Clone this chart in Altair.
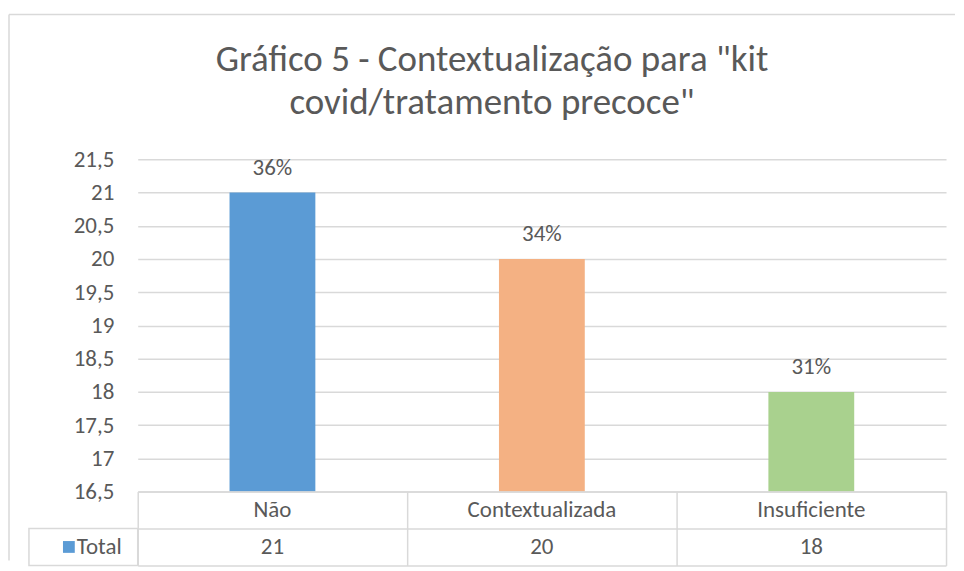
import altair as alt
import pandas as pd

categories = ["Não", "Contextualizada", "Insuficiente"]
totals = [21, 20, 18]
percent_labels = ["36%", "34%", "31%"]
bar_colors = ["#5B9BD5", "#F4B183", "#A9D18E"]
y_ticks = [16.5, 17, 17.5, 18, 18.5, 19, 19.5, 20, 20.5, 21, 21.5]
series_name = "Total"
table_rows = ["Categoria", "Total"]
title_lines = ['Gráfico 5 - Contextualização para "kit', 'covid/tratamento precoce"']

FONT = "Carlito, Lato, sans-serif"
TEXT = "#595959"
GRID = "#D9D9D9"
FS = 23

bars_df = pd.DataFrame({"cat": categories, "total": totals, "pct": percent_labels})
xscale = alt.Scale(domain=categories, paddingInner=0, paddingOuter=0)
yscale = alt.Scale(domain=[16.5, 21.5], zero=False, nice=False)
yaxis = alt.Axis(values=y_ticks, title=None, domain=False, ticks=False, labelOverlap=False,
                 labelPadding=24, labelFontSize=FS, labelColor=TEXT, labelFont=FONT,
                 gridColor=GRID, gridWidth=1.5,
                 labelExpr="replace(toString(datum.value), '.', ',')")

base = alt.Chart(bars_df)
bars = base.mark_bar(size=86, clip=True).encode(
    x=alt.X("cat:N", scale=xscale, sort=categories, axis=None),
    y=alt.Y("total:Q", scale=yscale, axis=yaxis),
    color=alt.Color("cat:N", scale=alt.Scale(domain=categories, range=bar_colors), legend=None),
)
labels = base.mark_text(dy=-18, baseline="alphabetic", fontSize=FS, font=FONT, color=TEXT).encode(
    x=alt.X("cat:N", scale=xscale, sort=categories, axis=None),
    y=alt.Y("total:Q", scale=yscale, axis=yaxis),
    text="pct:N",
)

one = pd.DataFrame({"k": [0]})
frame_h = alt.Chart(one).mark_rule(color=GRID, strokeWidth=1.5).encode(
    x=alt.value(-129), x2=alt.value(819), y=alt.value(-145))
frame_v = alt.Chart(one).mark_rule(color=GRID, strokeWidth=1.5).encode(
    x=alt.value(-129), y=alt.value(-145), y2=alt.value(402))

top = alt.layer(frame_h, frame_v, bars, labels).properties(width=810, height=333)

table_df = pd.DataFrame({
    "cat": categories + categories,
    "row": [table_rows[0]] * 3 + [table_rows[1]] * 3,
    "text": categories + [str(v) for v in totals],
})
rscale = alt.Scale(domain=table_rows, paddingInner=0, paddingOuter=0)
xaxis_t = alt.Axis(title=None, labels=False, ticks=False, domain=False, grid=True,
                   tickBand="extent", gridColor=GRID, gridWidth=1.5)
yaxis_t = alt.Axis(title=None, labels=False, ticks=False, domain=False, grid=True,
                   tickBand="extent", gridColor=GRID, gridWidth=1.5)

cells = alt.Chart(table_df).mark_text(fontSize=FS, font=FONT, color=TEXT).encode(
    x=alt.X("cat:N", scale=xscale, sort=categories, axis=xaxis_t),
    y=alt.Y("row:N", scale=rscale, axis=yaxis_t),
    text="text:N",
)
leg_df = pd.DataFrame({"row": [series_name]})
leg_rect = alt.Chart(leg_df).mark_rect(fill="transparent", stroke=GRID, strokeWidth=1.5).encode(
    y=alt.Y("row:N", scale=rscale, axis=yaxis_t), x=alt.value(-109), x2=alt.value(0))
leg_sq = alt.Chart(leg_df).mark_square(size=140, color=bar_colors[0], opacity=1).encode(
    y=alt.Y("row:N", scale=rscale, axis=yaxis_t), x=alt.value(-69))
leg_txt = alt.Chart(leg_df).mark_text(align="left", fontSize=FS, font=FONT, color=TEXT).encode(
    y=alt.Y("row:N", scale=rscale, axis=yaxis_t), x=alt.value(-61), text="row:N")

table = alt.layer(cells, leg_rect, leg_sq, leg_txt).properties(width=810, height=74)

chart = alt.vconcat(top, table, spacing=0, bounds="flush").resolve_scale(
    x="independent", y="independent", color="independent"
).properties(
    title=alt.TitleParams(text=title_lines, fontSize=37, font=FONT, color=TEXT,
                          fontWeight="normal", lineHeight=43, anchor="middle",
                          offset=-108, dx=10),
    padding={"left": 0, "top": 5, "right": 0, "bottom": 0},
).configure_view(strokeWidth=0)

chart.save("out.html", embed_options={"renderer": "svg", "actions": False})
